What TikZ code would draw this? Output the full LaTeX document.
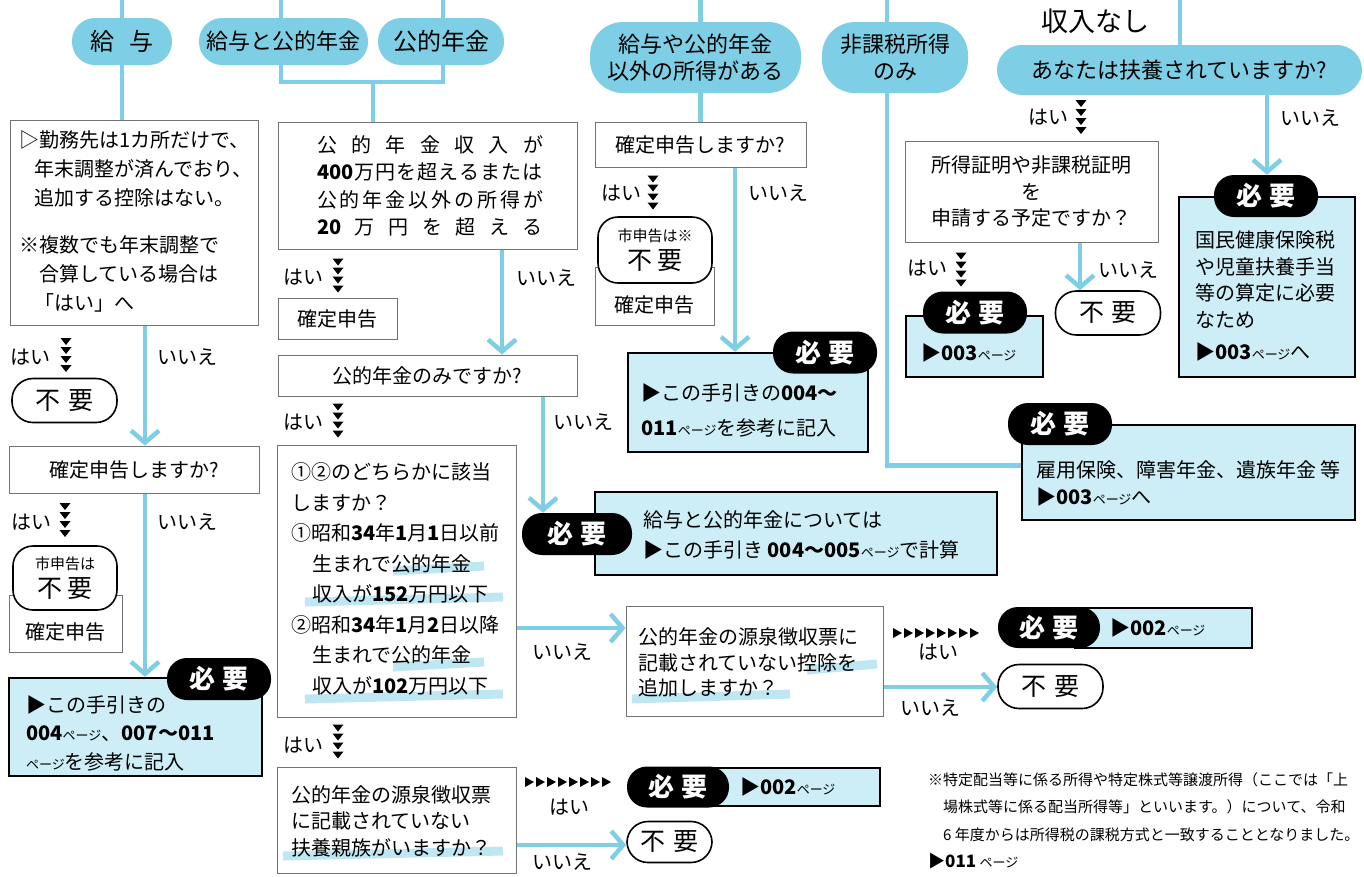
\documentclass[tikz,border=0pt]{standalone}
\usepackage{fontspec}
\setmainfont{Noto Sans CJK JP}
\usetikzlibrary{arrows.meta,backgrounds,calc}
\definecolor{lb}{HTML}{7ECFE5}
\definecolor{nf}{HTML}{CDEEF6}
\definecolor{hl}{HTML}{BFE7F3}
\newcommand\ftm{\fontsize{20}{29}\selectfont}
\newcommand\ftsm{\fontsize{13}{15}\selectfont}
\newcommand\pgs{{\ftsm ページ}}
\newcommand\sprd[1]{\makebox[226pt][s]{#1}}
\tikzset{
  base/.style={inner sep=0pt, font=\ftm},
  lbl/.style={base},
  qbox/.style={base, draw=black!55, line width=1pt},
  needbox/.style={base, draw=black, line width=2.4pt, fill=nf},
  blk/.style={base, fill=black, text=white, rounded corners=20pt, minimum width=104pt, minimum height=42pt, font=\fontsize{26}{27}\selectfont\bfseries},
  nopill/.style={base, draw=black, line width=1.6pt, fill=white, rounded corners=21pt, minimum width=105pt, minimum height=44pt, font=\fontsize{25}{26}\selectfont},
  sppill/.style={base, draw=black, line width=1.6pt, fill=white, rounded corners=20pt, align=center},
  toppill/.style={base, fill=lb, font=\fontsize{22}{27}\selectfont},
  flow/.style={draw=lb, line width=4.5pt},
  arr/.style={flow, -{Straight Barb[length=12pt,width=28pt]}},
  hlb/.style={draw=hl, line width=9pt},
  tridown/.pic={\foreach \k in {0,1,2,3}{\fill[black] (-5.5,-17+9*\k) -- (5.5,-17+9*\k) -- (0,-10+9*\k) -- cycle;}},
  triright/.pic={\foreach \k in {0,...,7}{\fill[black] (11*\k,-5) -- (11*\k+9,0) -- (11*\k,5) -- cycle;}},
}
\begin{document}
\begin{tikzpicture}[x=1pt,y=-1pt]
\useasboundingbox (0,0) rectangle (1364,876);
% ---- top pills
\node[toppill, minimum width=100pt, minimum height=47pt, rounded corners=23pt, font=\fontsize{24}{27}\selectfont] (pK) at (122,41.5) {給\hspace{0.6em}与};
\node[toppill, minimum width=169pt, minimum height=47pt, rounded corners=23pt] (pKN) at (283.5,41.5) {給与と公的年金};
\node[toppill, minimum width=126pt, minimum height=47pt, rounded corners=23pt, font=\fontsize{24}{27}\selectfont] (pN) at (441,41.5) {公的年金};
\node[toppill, minimum width=211pt, minimum height=71pt, rounded corners=33pt, align=center] (pO) at (695.5,57.5) {給与や公的年金\\以外の所得がある};
\node[toppill, minimum width=146pt, minimum height=71pt, rounded corners=33pt, align=center] (pH) at (895,57.5) {非課税所得\\のみ};
\node[toppill, minimum width=365pt, minimum height=50pt, rounded corners=25pt] (pA) at (1179.5,70) {あなたは扶養されていますか?};
\node[lbl, font=\fontsize{27}{28}\selectfont] (nashi) at (1095,21) {収入なし};
\coordinate (tK) at (122,0);
\coordinate (tKN) at (281,0);
\coordinate (tN) at (443,0);
\coordinate (jn) at (373,82);
\coordinate (tO) at (700.5,0);
\coordinate (tH) at (887,0);
\coordinate (tA) at (1180,0);
% ---- column 1
\node[qbox, minimum width=248pt, minimum height=205pt] (q1) at (134,222.5) {};
\node[lbl, anchor=west, align=left] (q1t) at (19,221) {▷勤務先は1カ所だけで、\\\hspace*{0.75em}年末調整が済んでおり、\\\hspace*{0.75em}追加する控除はない。\\[18pt]※複数でも年末調整で\\\hspace*{1em}合算している場合は\\\hspace*{0.75em}「はい」へ};
\node[lbl] (hai1) at (30,357) {はい};
\pic at (66,355) {tridown};
\node[lbl] (iie1) at (187,357) {いいえ};
\node[nopill] (f1) at (64.5,400.5) {不\hspace{0.3em}要};
\node[qbox, minimum width=250pt, minimum height=47pt] (q3) at (134,469.5) {確定申告しますか?};
\node[lbl] (hai2) at (31,522) {はい};
\pic at (65,520) {tridown};
\node[lbl] (iie2) at (187,522) {いいえ};
\node[qbox, minimum width=113pt, text height=44pt, text depth=13pt, anchor=north] (kb1) at (65.5,595) {確定申告};
\node[sppill, minimum width=104pt, minimum height=64pt] (sp1) at (65,578) {{\fontsize{15}{17}\selectfont 市申告は}\\[-1pt]{\fontsize{25}{26}\selectfont 不\hspace{0.2em}要}};
\node[needbox, minimum width=253pt, minimum height=98pt] (n1) at (135.5,727) {};
\node[lbl, anchor=west, align=left, font=\fontsize{20}{28.5}\selectfont] (n1t) at (26,733) {▶この手引きの\\\textbf{004}\pgs、\textbf{007～011}\\\pgs を参考に記入};
\node[blk] (bl1) at (219,679) {必\hspace{0.25em}要};
% ---- column 2
\node[qbox, minimum width=299pt, minimum height=127pt] (q2) at (427.5,185.5) {};
\node[lbl, align=center, font=\fontsize{20}{27.3}\selectfont] (q2t) at (430,186) {\sprd{公\hfill 的\hfill 年\hfill 金\hfill 収\hfill 入\hfill が}\\\sprd{\textbf{400}\hfill 万\hfill 円\hfill を\hfill 超\hfill え\hfill る\hfill ま\hfill た\hfill は}\\\sprd{公\hfill 的\hfill 年\hfill 金\hfill 以\hfill 外\hfill の\hfill 所\hfill 得\hfill が}\\\sprd{\textbf{20}\hfill 万\hfill 円\hfill を\hfill 超\hfill え\hfill る}};
\node[lbl] (hai3) at (303,277) {はい};
\pic at (338,275.5) {tridown};
\node[qbox, minimum width=119pt, minimum height=41pt] (kb2) at (337.5,318.5) {確定申告};
\node[lbl] (iie3) at (546,278) {いいえ};
\node[qbox, minimum width=299pt, minimum height=41pt] (q4) at (427.5,375.5) {公的年金のみですか?};
\node[lbl] (hai4) at (303,422) {はい};
\pic at (338,420.5) {tridown};
\node[lbl] (iie4) at (583,422) {いいえ};
\node[qbox, minimum width=239pt, minimum height=272pt] (q5) at (396.5,581) {};
\node[lbl, anchor=west, align=left, font=\fontsize{20}{30.5}\selectfont] (q5t) at (291,579) {①②のどちらかに該当\\しますか？\\①昭和\textbf{34}年\textbf{1}月\textbf{1}日以前\\\hspace*{1.05em}生まれで公的年金\\\hspace*{1.05em}収入が\textbf{152}万円以下\\②昭和\textbf{34}年\textbf{1}月\textbf{2}日以降\\\hspace*{1.05em}生まれで公的年金\\\hspace*{1.05em}収入が\textbf{102}万円以下};
\node[lbl] (iie5) at (562,652) {いいえ};
\node[lbl] (hai5) at (303,745) {はい};
\pic at (338,741.5) {tridown};
\node[qbox, minimum width=239pt, minimum height=106pt] (q7) at (396.5,820) {};
\node[lbl, anchor=west, align=left, font=\fontsize{20}{26.5}\selectfont] (q7t) at (291,821) {公的年金の源泉徴収票\\に記載されていない\\扶養親族がいますか？};
\pic at (525,782) {triright};
\node[lbl] (hai6) at (569,807) {はい};
\node[needbox, minimum width=176pt, minimum height=38pt] (n7) at (792,787) {};
\node[lbl, anchor=west] (n7t) at (740,787) {▶\textbf{002}\pgs};
\node[blk, minimum width=102pt, minimum height=41pt] (bl7) at (678,787) {必\hspace{0.25em}要};
\node[nopill, minimum width=85pt, minimum height=41pt] (f7) at (669.5,842) {不\hspace{0.3em}要};
\node[lbl] (iie6) at (562,862) {いいえ};
% ---- column 3
\node[qbox, minimum width=211pt, minimum height=45pt] (q8) at (700.5,144.5) {確定申告しますか?};
\node[lbl] (hai7) at (621,193) {はい};
\pic at (653,192.5) {tridown};
\node[lbl] (iie7) at (778,193) {いいえ};
\node[qbox, minimum width=119pt, text height=45pt, text depth=13pt, anchor=north] (kb3) at (654.5,267) {確定申告};
\node[sppill, minimum width=114pt, minimum height=66pt] (sp3) at (655,250) {{\fontsize{15}{17}\selectfont 市申告は※}\\[-1pt]{\fontsize{25}{26}\selectfont 不\hspace{0.2em}要}};
\node[needbox, minimum width=240pt, minimum height=99pt] (n2) at (748,402.5) {};
\node[lbl, anchor=west, align=left, font=\fontsize{20}{35}\selectfont] (n2t) at (641,410.5) {▶この手引きの\textbf{004～}\\\textbf{011}\pgs を参考に記入};
\node[blk] (bl2) at (825,352.5) {必\hspace{0.25em}要};
\node[needbox, minimum width=402pt, minimum height=83pt] (n3) at (796,533.5) {};
\node[lbl, anchor=west, align=left, font=\fontsize{20}{30}\selectfont] (n3t) at (643,535) {給与と公的年金については\\▶この手引き \textbf{004～005}\pgs で計算};
\node[blk, minimum width=110pt] (bl3) at (577,534) {必\hspace{0.25em}要};
\node[qbox, minimum width=257pt, minimum height=110pt] (q6) at (754.5,661) {};
\node[lbl, anchor=west, align=left, font=\fontsize{20}{25.5}\selectfont] (q6t) at (638,662.5) {公的年金の源泉徴収票に\\記載されていない控除を\\追加しますか？};
\pic at (893,633) {triright};
\node[lbl] (hai8) at (938,652) {はい};
\node[needbox, minimum width=177pt, minimum height=40pt] (n8) at (1163.5,628) {};
\node[lbl, anchor=west] (n8t) at (1110,628) {▶\textbf{002}\pgs};
\node[blk, minimum width=102pt, minimum height=41pt] (bl8) at (1049,627.5) {必\hspace{0.25em}要};
\node[nopill] (f8) at (1050.5,686.5) {不\hspace{0.3em}要};
\node[lbl] (iie8) at (930,708) {いいえ};
% ---- right part
\node[lbl] (hai9) at (1048,117) {はい};
\pic at (1081,117) {tridown};
\node[lbl] (iie9) at (1310,118) {いいえ};
\node[qbox, minimum width=253pt, minimum height=101pt] (q9) at (1031.5,191.5) {};
\node[lbl, align=center, font=\fontsize{20}{26.5}\selectfont] (q9t) at (1031.5,191.5) {所得証明や非課税証明\\を\\申請する予定ですか？};
\node[lbl] (hai10) at (927,268) {はい};
\pic at (961,269.5) {tridown};
\node[lbl] (iie10) at (1128,270) {いいえ};
\node[nopill] (f9) at (1108,313) {不\hspace{0.3em}要};
\node[needbox, minimum width=137pt, minimum height=61pt] (n4) at (974.5,346.5) {};
\node[lbl, anchor=west] (n4t) at (921,353) {▶\textbf{003}\pgs};
\node[blk] (bl4) at (975,312.5) {必\hspace{0.25em}要};
\node[needbox, minimum width=176pt, minimum height=180pt] (n5) at (1267,287) {};
\node[lbl, anchor=west, align=left, font=\fontsize{20}{26.7}\selectfont] (n5t) at (1195,296) {国民健康保険税\\や児童扶養手当\\等の算定に必要\\なため\\[5pt]▶\textbf{003}\pgs へ};
\node[blk] (bl5) at (1266,196) {必\hspace{0.25em}要};
\node[needbox, minimum width=333pt, minimum height=95pt] (n6) at (1188.5,472.5) {};
\node[lbl, anchor=west, align=left, font=\fontsize{20}{27}\selectfont] (n6t) at (1036,483.5) {雇用保険、障害年金、遺族年金 等\\▶\textbf{003}\pgs へ};
\node[blk] (bl6) at (1060,424) {必\hspace{0.25em}要};
% ---- footnote
\node[lbl, anchor=west, align=left, font=\fontsize{15}{27.5}\selectfont] (fn) at (928,821) {※特定配当等に係る所得や特定株式等譲渡所得（ここでは「上\\\hspace*{1em}場株式等に係る配当所得等」といいます。）について、令和\\\hspace*{1em}6 年度からは所得税の課税方式と一致することとなりました。\\{\fontsize{17}{20}\selectfont ▶\textbf{011}} {\ftsm ページ}};
% ---- background: lines, arrows, highlights
\begin{scope}[on background layer]
\fill[white] (0,0) rectangle (1364,876);
\draw[flow] (tK) -- (tK |- q1.north);
\draw[flow] (tKN) -- (tKN |- pKN.north);
\draw[flow] (tN) -- (tN |- pN.north);
\draw[flow, line join=miter] (tKN |- pKN.south) -- (tKN |- jn) -- (tN |- jn) -- (tN |- pN.south);
\draw[flow] (jn) -- (jn |- q2.north);
\draw[flow] (tO) -- (tO |- q8.north);
\draw[flow] (tH) |- ([yshift=7pt]n6.west);
\draw[flow] (tA) -- (tA |- pA.north);
\draw[arr] ([xshift=11pt]q1.south) -- ([xshift=11pt]q1.south |- q3.north);
\draw[arr] ([xshift=11pt]q3.south) -- ([xshift=11pt]q3.south |- n1.north);
\draw[arr] ([xshift=74.5pt]q2.south) -- ([xshift=74.5pt]q2.south |- q4.north);
\draw[arr] ([xshift=115.5pt]q4.south) -- ([xshift=115.5pt]q4.south |- bl3.north);
\draw[arr] ([yshift=-47pt]q5.east) -- ([yshift=-47pt]q5.east -| q6.west);
\draw[arr] ([yshift=-25pt]q7.east) -- ([yshift=-25pt]q7.east -| f7.west);
\draw[arr] ([xshift=34.5pt]q8.south) -- ([xshift=34.5pt]q8.south |- n2.north);
\draw[arr] ([yshift=-26pt]q6.east) -- ([yshift=-26pt]q6.east -| f8.west);
\draw[arr] ([xshift=48.5pt]q9.south) -- ([xshift=48.5pt]q9.south |- f9.north);
\draw[arr] ([xshift=87.5pt]pA.south) -- ([xshift=87.5pt]pA.south |- bl5.north);
\draw[hlb] (393,571) -- (484,566);
\draw[hlb] (305,602) -- (503,597);
\draw[hlb] (393,667) -- (484,662);
\draw[hlb] (305,699) -- (503,694);
\draw[hlb] (283,856) -- (503,851);
\draw[hlb] (807,670) -- (877,664);
\draw[hlb] (632,699) -- (790,694);
\end{scope}
\end{tikzpicture}
\end{document}
